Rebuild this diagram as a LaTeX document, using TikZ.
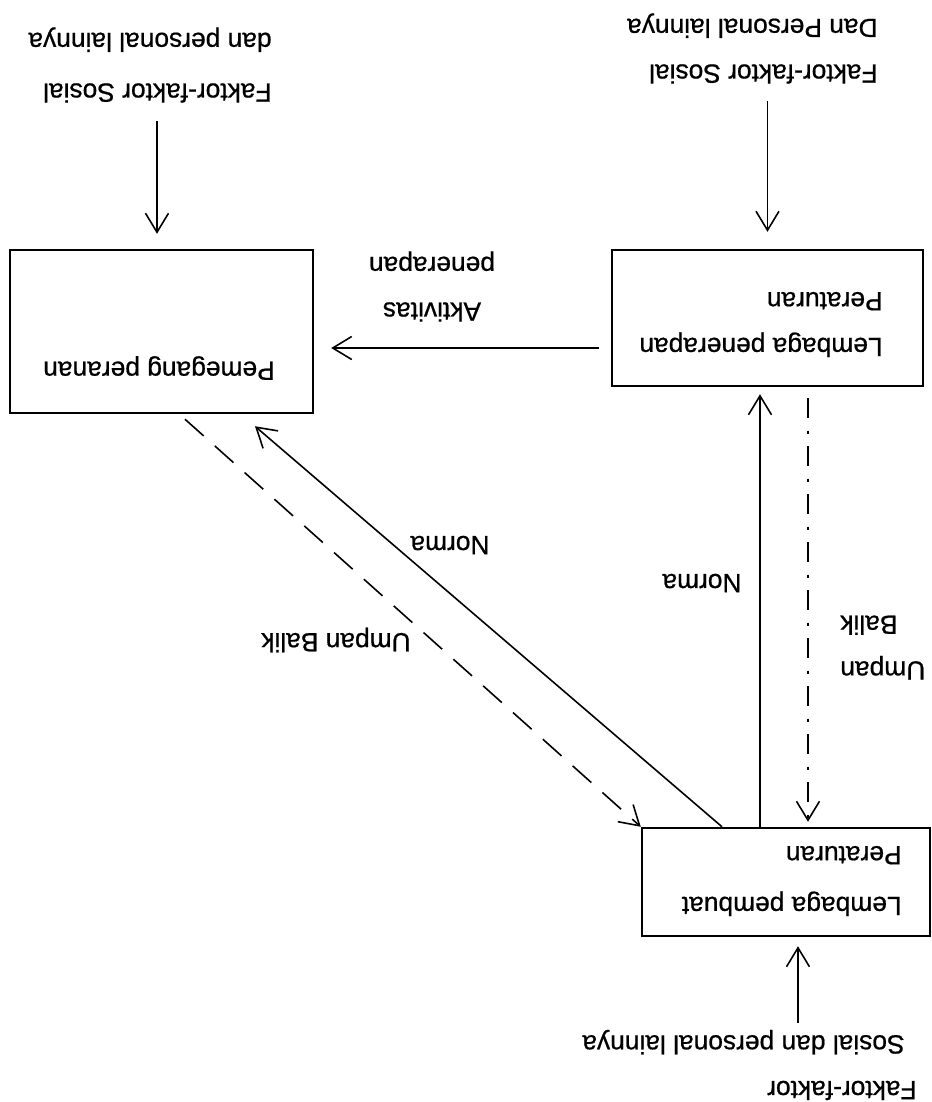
\documentclass[tikz,border=0pt]{standalone}
\usepackage{fontspec}
\setmainfont{Liberation Sans}
\newfontfamily\huruf{Liberation Sans}[FakeBold=0.7]
\usetikzlibrary{arrows.meta,calc}

\tikzset{
  kotak/.style={draw, line width=1.4pt, inner sep=0pt},
  tulisan/.style={inner sep=0pt, font=\huruf\fontsize{15}{26}\selectfont},
  panah/.style={line width=0.9pt, -{Straight Barb[length=3.8mm,width=4.6mm]}},
  putus/.style={panah, dash pattern=on 5mm off 3mm},
  putustitik/.style={panah, dash pattern=on 4mm off 2.5mm on 0.6mm off 2.5mm},
}

\begin{document}
\begin{tikzpicture}[rotate=180, transform shape]
\useasboundingbox (0,0) rectangle (18.64,22.04);

% kotak
\node[kotak, minimum width=6.06cm, minimum height=3.26cm] (pem) at (15.41,6.63) {};
\node[kotak, minimum width=6.22cm, minimum height=2.72cm] (pen) at (3.29,6.36) {};
\node[kotak, minimum width=5.76cm, minimum height=2.16cm] (pmb) at (2.92,17.64) {};

\node[tulisan] (pemtxt) at (15.46,7.36) {Pemegang peranan};
\node[tulisan, align=left, anchor=west] (pentxt) at (0.98,6.49) {Lembaga penerapan\\Peraturan};
\node[tulisan, align=left, anchor=west] (pmbtxt) at (0.6,17.62) {Lembaga pembuat\\[1mm]Peraturan};

% faktor luar
\node[tulisan, align=left, anchor=west] (fakA) at (13.2,1.3) {Faktor-faktor Sosial\\[1mm]dan personal lainnya};
\node[tulisan, align=left, anchor=west] (fakB) at (1.08,0.97) {Faktor-faktor Sosial\\Dan Personal lainnya};
\node[tulisan, align=left, anchor=west] (fakC) at (0.3,21.3) {Faktor-faktor\\\hspace*{2.4mm}Sosial dan personal lainnya};

% label
\node[tulisan, align=center] (akt) at (10.0,5.73) {Aktivitas\\penerapan};
\node[tulisan] (nm1) at (4.6,11.66) {Norma};
\node[tulisan] (nm2) at (9.64,10.9) {Norma};
\node[tulisan, align=right, anchor=east] (ub1) at (1.84,12.95) {Umpan\\Balik};
\node[tulisan] (ub2) at (11.92,12.8) {Umpan Balik};

% panah
\coordinate (a1) at ($(pem.south)+(0.09,0)$);
\draw[panah, shorten <=3.7mm, shorten >=3mm] (fakA.north -| a1) -- (a1);
\draw[panah, shorten <=3.5mm, shorten >=3.4mm] (fakB.north -| pen.south) -- (pen.south);
\coordinate (c1) at ($(pmb.north)+(-0.24,0)$);
\draw[panah, shorten <=1.3mm, shorten >=1.8mm] (fakC.south -| c1) -- (c1);

\coordinate (d1) at ($(pmb.south)+(0.52,0)$);
\draw[panah, shorten >=1.4mm] (d1) -- (d1 |- pen.north);
\coordinate (e1) at ($(pen.north)+(-0.81,0)$);
\draw[putustitik, shorten <=2.2mm, shorten >=1mm] (e1) -- (e1 |- pmb.south);

\coordinate (f1) at ($(pen.east)+(0,0.6)$);
\draw[panah, shorten <=2.4mm, shorten >=3.4mm] (f1) -- (f1 -| pem.west);

\draw[panah] ($(pmb.south)+(1.28,0)$) -- ($(pem.north)+(-1.87,0.24)$);
\draw[putus] ($(pem.north)+(-0.47,0.1)$) -- (pmb.south east);
\end{tikzpicture}
\end{document}
